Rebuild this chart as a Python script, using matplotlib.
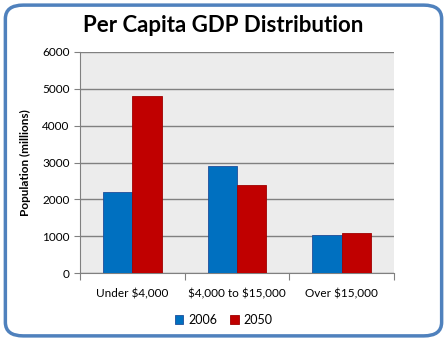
import numpy as np
import matplotlib.pyplot as plt
from matplotlib.patches import FancyBboxPatch

categories = ['Under $4,000', '$4,000 to $15,000', 'Over $15,000']
years = ['2006', '2050']
pop_2006 = [2200, 2900, 1030]
pop_2050 = [4810, 2400, 1080]
y_ticks = [0, 1000, 2000, 3000, 4000, 5000, 6000]

plt.rcParams['font.family'] = ['Lato', 'DejaVu Sans']
plt.rcParams['text.parse_math'] = False

fig = plt.figure(figsize=(4.47, 3.41), dpi=100)
# рамка с закруглёнными углами
frame = FancyBboxPatch((0.012, 0.015), 0.976, 0.97, boxstyle='round,pad=0,rounding_size=0.04',
                       transform=fig.transFigure, facecolor='white', edgecolor='#4f81bd',
                       linewidth=2.5, zorder=-1)
fig.patches.append(frame)

ax = fig.add_axes([80/447, 1 - 273/341, 314/447, 221/341])
ax.set_facecolor('#ececec')

x = np.arange(len(categories))
w = 0.28
ax.bar(x - w/2, pop_2006, w, color='#0070c0', edgecolor='#1f4e9a', linewidth=0.6, label=years[0], zorder=3)
ax.bar(x + w/2, pop_2050, w, color='#c00000', edgecolor='#a00000', linewidth=0.6, label=years[1], zorder=3)

ax.set_xlim(-0.5, 2.5)
ax.set_ylim(0, 6000)
ax.set_yticks(y_ticks)
ax.yaxis.grid(True, color='#808080', linewidth=1.0, zorder=1)
ax.set_axisbelow(True)

ax.set_xticks([-0.5, 0.5, 1.5, 2.5])
ax.set_xticklabels([])
ax.set_xticks(x, minor=True)
ax.set_xticklabels(categories, minor=True, fontsize=8.5)
ax.tick_params(axis='x', which='minor', length=0, pad=11)
ax.tick_params(axis='x', which='major', length=5, color='#808080')
ax.tick_params(axis='y', length=4, color='#808080', labelsize=8.5)

for s in ['top', 'right']:
    ax.spines[s].set_visible(False)
ax.spines['left'].set_color('#808080')
ax.spines['bottom'].set_color('#808080')

ax.set_ylabel('Population (millions)', fontsize=8.5, fontweight='bold', labelpad=8)
fig.text(0.5, 0.905, 'Per Capita GDP Distribution', ha='center', fontsize=16, fontweight='bold')

fig.legend(loc='center', bbox_to_anchor=(0.5, 1 - 320/341), ncol=2, frameon=False,
           fontsize=9, handlelength=0.7, handleheight=0.7, handletextpad=0.4, columnspacing=1.0)

fig.savefig('out.png', dpi=100)
